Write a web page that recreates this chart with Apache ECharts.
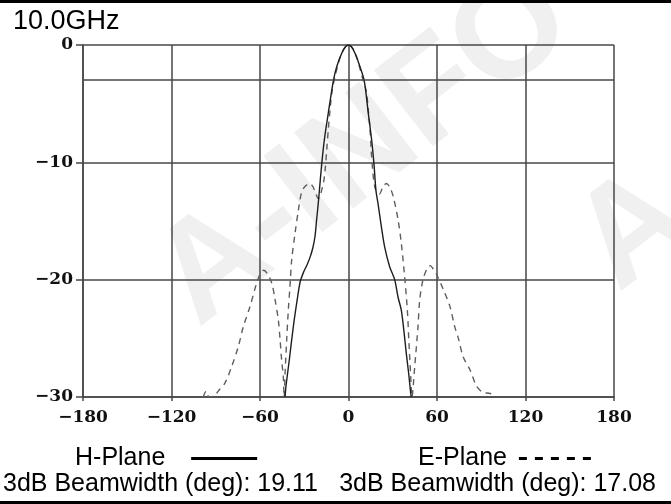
<!DOCTYPE html>
<html>
<head>
<meta charset="utf-8">
<script src="https://cdn.jsdelivr.net/npm/echarts@6/dist/echarts.min.js"></script>
<style>
html,body{margin:0;padding:0;background:#fff;}
#chart{width:671px;height:504px;}
</style>
</head>
<body>
<div id="chart"></div>
<script>
// ---- data ----
const chartTitle = '10.0GHz';
const seriesNames = ['H-Plane', 'E-Plane'];
const beamwidthTexts = ['3dB Beamwidth (deg): 19.11', '3dB Beamwidth (deg): 17.08'];
const xTicks = [-180, -120, -60, 0, 60, 120, 180];
const yTicks = [-30, -20, -10, 0];
const refLevel = -3;

const hAngle = [-43, -42.4, -40, -37.4, -35, -32.8, -30.6, -28, -26.1, -24.2, -22.7, -21.7, -20.5, -19.6, -18.2, -16.4, -13.7, -10.3, -8, -4.6, -2, 0,
                2, 4.4, 7.8, 10.7, 13.4, 15.7, 17.3, 18.6, 20, 22.3, 24.5, 27.9, 31.3, 33.6, 35.8, 37.5, 39.2, 40.8, 42.2, 42.6];
const hDb    = [-30, -29.1, -26.7, -24, -21.9, -20.2, -19.4, -18.7, -18.1, -17.3, -16.3, -15, -13.5, -12.2, -10.2, -8.1, -5.8, -3.07, -1.85, -0.7, -0.15, 0,
                -0.15, -0.7, -1.85, -3.07, -5.8, -8.1, -10.2, -12.4, -13.5, -15.5, -17.2, -18.9, -20, -21.5, -22.6, -24.3, -26.3, -28, -29.7, -30];

const eAngle = [-98.5, -96.5, -94.5, -91, -88.3, -83.7, -79.2, -74.7, -71.3, -66.8, -62.3, -59.5, -57.5, -55, -52, -49.8, -47.6, -46.4, -45.3, -44.2, -43.6,
                -43, -41.9, -40.8, -39.7, -38.5, -36.3, -34, -31.7, -29, -26.3, -24, -22.7, -20.5, -17.1, -15.9, -14.8, -13.7, -12.5, -11.2, -9.2, -6, -3, 0,
                3, 6, 9.2, 12, 13.4, 14.6, 15.4, 16.4, 17.5, 19, 21, 23, 25.6, 28, 30.5, 33.6, 35.8, 38.1, 39.9, 41, 42.2, 43,
                44.9, 47.1, 48.3, 50.5, 53.5, 55.5, 57.5, 59.5, 64.5, 68.8, 72, 74.5, 77.8, 82.4, 86.9, 91, 96, 98];
const eDb    = [-30, -29.5, -30, -29.9, -29.5, -28.8, -27.4, -25.7, -24, -22.3, -20.3, -19.4, -19.2, -19.5, -20.3, -21.7, -23.4, -25.1, -26.9, -28.3, -30,
                -28, -25.1, -22.6, -20.6, -18.3, -16.1, -14.1, -12.5, -12, -11.8, -12.1, -12.5, -13.1, -11.8, -10.7, -9, -7.2, -5.5, -4, -2.7, -1.2, -0.3, 0,
                -0.3, -1.2, -2.7, -3.9, -5.5, -7.2, -9, -10.7, -11.9, -12.5, -12.7, -12.2, -11.8, -12.1, -13, -14.9, -16.9, -19.8, -22.6, -25.4, -28.3, -30,
                -27.4, -24, -21.7, -20, -19, -18.8, -19.1, -19.5, -20.9, -22.3, -24, -25, -26.6, -27.7, -29.1, -29.6, -29.7, -30];

// ---- build ----
const hData = hAngle.map((a, i) => [a, hDb[i]]);
const eData = eAngle.map((a, i) => [a, eDb[i]]);
const fmt = v => String(v).replace('-', '\u2212');
const gridColor = '#474747';
const tickFont = { fontFamily: 'DejaVu Serif', fontWeight: 'bold', fontSize: 17, color: '#111' };
const legendText = { fontFamily: 'Liberation Sans', fontSize: 25, color: '#000' };

const chart = echarts.init(document.getElementById('chart'), null, { renderer: 'canvas' });
chart.setOption({
  animation: false,
  backgroundColor: '#fff',
  title: {
    text: chartTitle, left: 8, top: 3,
    textStyle: { fontFamily: 'Liberation Sans', fontWeight: 'normal', fontSize: 27, color: '#000' }
  },
  grid: { left: 83, right: 57, top: 45, bottom: 107 },
  xAxis: {
    type: 'value', min: xTicks[0], max: xTicks[xTicks.length - 1], interval: 60,
    axisLine: { show: true, onZero: false, lineStyle: { color: gridColor, width: 1.5 } },
    axisTick: { show: true, length: 4, lineStyle: { color: gridColor, width: 1.5 } },
    splitLine: { show: true, lineStyle: { color: gridColor, width: 1.5 } },
    axisLabel: Object.assign({ margin: 12, formatter: fmt }, tickFont)
  },
  yAxis: {
    type: 'value', min: yTicks[0], max: yTicks[yTicks.length - 1], interval: 10,
    axisLine: { show: true, onZero: false, lineStyle: { color: gridColor, width: 1.5 } },
    axisTick: { show: true, length: 7, lineStyle: { color: gridColor, width: 1.5 } },
    splitLine: { show: true, lineStyle: { color: gridColor, width: 1.5 } },
    axisLabel: Object.assign({ margin: 10, formatter: fmt }, tickFont)
  },
  legend: [
    {
      data: [seriesNames[0]], left: 75, top: 446, align: 'right', padding: 0,
      itemWidth: 66, itemHeight: 14,
      formatter: n => n + '   ',
      textStyle: legendText,
      itemStyle: { opacity: 0 },
      lineStyle: { width: 3, color: '#000', type: 'solid' }
    },
    {
      data: [seriesNames[1]], left: 418, top: 446, align: 'right', padding: 0,
      itemWidth: 73, itemHeight: 14,
      formatter: n => n + ' ',
      textStyle: legendText,
      itemStyle: { opacity: 0 },
      lineStyle: { width: 3, color: '#000', type: [8, 8] }
    }
  ],
  graphic: [
    { type: 'text', z: -10, silent: true, x: 365, y: 150, rotation: 0.66,
      style: { text: 'A-INFO', fill: '#f0f0f0', font: 'bold 140px "Liberation Sans"', textAlign: 'center', textVerticalAlign: 'middle' } },
    { type: 'text', z: -10, silent: true, x: 785, y: 115, rotation: 0.66,
      style: { text: 'A-INFO', fill: '#f0f0f0', font: 'bold 140px "Liberation Sans"', textAlign: 'center', textVerticalAlign: 'middle' } },
    { type: 'rect', silent: true, shape: { x: 0, y: 0, width: 671, height: 3 }, style: { fill: '#000' } },
    { type: 'rect', silent: true, shape: { x: 0, y: 501, width: 671, height: 3 }, style: { fill: '#000' } },
    { type: 'text', silent: true, x: 3, y: 484,
      style: { text: beamwidthTexts[0], fill: '#000', font: '25px "Liberation Sans"', textAlign: 'left', textVerticalAlign: 'middle' } },
    { type: 'text', silent: true, x: 656, y: 484,
      style: { text: beamwidthTexts[1], fill: '#000', font: '25px "Liberation Sans"', textAlign: 'right', textVerticalAlign: 'middle' } }
  ],
  series: [
    {
      name: seriesNames[0], type: 'line', data: hData, symbol: 'none', smooth: 0.3, clip: true,
      lineStyle: { color: '#1e1e1e', width: 1.4 },
      itemStyle: { color: '#1e1e1e' },
      markLine: {
        silent: true, symbol: ['none', 'none'], label: { show: false },
        lineStyle: { color: gridColor, width: 1.5, type: 'solid' },
        data: [{ yAxis: refLevel }]
      },
      z: 3
    },
    {
      name: seriesNames[1], type: 'line', data: eData, symbol: 'none', smooth: 0.3, clip: true,
      lineStyle: { color: '#5e5e5e', width: 1.4, type: [6, 5] },
      itemStyle: { color: '#5e5e5e' },
      z: 2
    }
  ]
});
</script>
</body>
</html>
